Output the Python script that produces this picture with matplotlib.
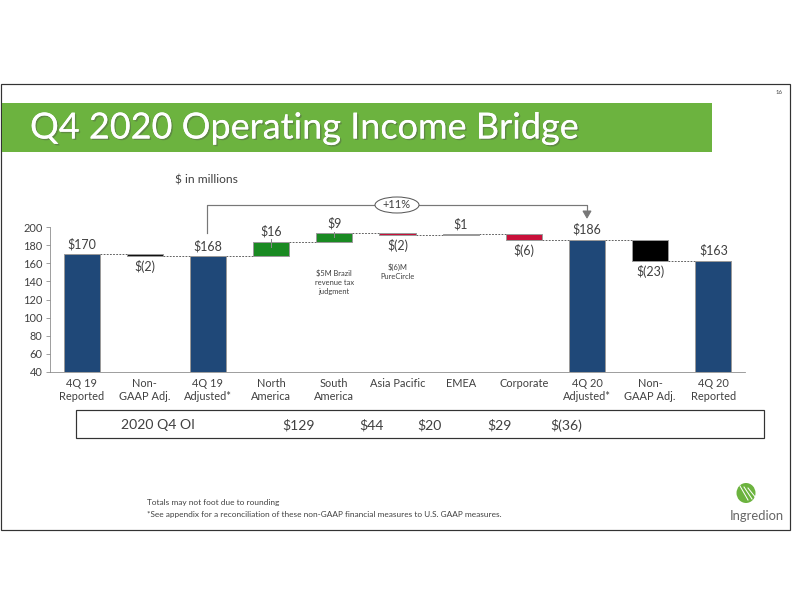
"""
Q4 2020 operating income bridge (waterfall) recreated as a slide
"""
import matplotlib
matplotlib.use('Agg')
import matplotlib.pyplot as plt
import matplotlib.patheffects as pe
from matplotlib.patches import Rectangle, Ellipse, Wedge
import numpy as np

plt.rcParams['font.family'] = ['Lato', 'DejaVu Sans']

# data
categories = ['4Q 19\nReported', 'Non-\nGAAP Adj.', '4Q 19\nAdjusted*', 'North\nAmerica',
              'South\nAmerica', 'Asia Pacific', 'EMEA', 'Corporate', '4Q 20\nAdjusted*',
              'Non-\nGAAP Adj.', '4Q 20\nReported']
values = [170, -2, 168, 16, 9, -2, 1, -6, 186, -23, 163]
is_total = [True, False, True, False, False, False, False, False, True, False, True]
value_labels = ['$170', '$(2)', '$168', '$16', '$9', '$(2)', '$1', '$(6)', '$186', '$(23)', '$163']
bar_colors = ['#1f4878', '#111111', '#1f4878', '#1a8a22', '#1a8a22', '#c8103a',
              '#5a5a5a', '#c8103a', '#1f4878', '#000000', '#1f4878']
notes = {4: '$5M Brazil\nrevenue tax\njudgment', 5: '$(6)M\nPureCircle'}
yticks = [40, 60, 80, 100, 120, 140, 160, 180, 200]

oi_label = '2020 Q4 OI'
oi_values = ['$129', '$44', '$20', '$29', '$(36)']

W, H = 792, 612
fig = plt.figure(figsize=(W / 72, H / 72), dpi=72)


def fx(px):
    return px / W


def fy(py):
    return 1 - py / H


text_col = '#404040'

# slide frame
fig.add_artist(Rectangle((fx(1), fy(530)), fx(789), fy(84) - fy(530), transform=fig.transFigure,
                         fill=False, edgecolor='#333333', lw=1.2))
# title banner
fig.add_artist(Rectangle((fx(2), fy(152)), fx(710), fy(103) - fy(152), transform=fig.transFigure,
                         facecolor='#6cb33f', edgecolor='none'))
fig.text(fx(30), fy(128), 'Q4 2020 Operating Income Bridge', color='white', fontsize=36,
         va='center', ha='left',
         path_effects=[pe.withSimplePatchShadow(offset=(1.5, -1.5), alpha=0.4), pe.Normal()])
fig.text(fx(779), fy(93), '16', fontsize=6, color=text_col, ha='center', va='center')
fig.text(fx(175), fy(180), '$ in millions', fontsize=12, color=text_col, ha='left', va='center')

# chart
ax = fig.add_axes([fx(50), fy(372), fx(695), fy(227) - fy(372)])
x = np.arange(len(categories))
bottoms, tops = [], []
level = 0
for v, tot in zip(values, is_total):
    if tot:
        b, t = 0, v
        level = v
    else:
        b, t = min(level, level + v), max(level, level + v)
        level = level + v
    bottoms.append(b)
    tops.append(t)
bottoms = np.array(bottoms)
tops = np.array(tops)
width = 0.57
ax.bar(x, tops - bottoms, bottom=bottoms, width=width, color=bar_colors,
       edgecolor='#9a9a9a', linewidth=1, zorder=3)

# connectors
ends = []
level = 0
for v, tot in zip(values, is_total):
    level = v if tot else level + v
    ends.append(level)
for i in range(len(x) - 1):
    ax.plot([x[i] + width / 2, x[i + 1] - width / 2], [ends[i], ends[i]],
            ls=(0, (2, 1.5)), color='#555555', lw=0.9, zorder=2)

# value labels
for i, lab in enumerate(value_labels):
    if values[i] < 0 and not is_total[i]:
        ax.annotate(lab, (x[i], bottoms[i]), xytext=(0, -4), textcoords='offset points',
                    ha='center', va='top', fontsize=12.5, color=text_col)
    else:
        ax.annotate(lab, (x[i], tops[i]), xytext=(0, 4), textcoords='offset points',
                    ha='center', va='bottom', fontsize=12.5, color=text_col)

# small marks on the green bars
ax.plot([x[3], x[3]], [tops[3] + 2.5, tops[3] - 6], color='#8a8a8a', lw=1, zorder=4)
ax.plot([x[4], x[4]], [tops[4] + 1.5, tops[4] - 4], color='#8a8a8a', lw=1, zorder=4)

for i, txt in notes.items():
    ax.annotate(txt, (x[i], bottoms[i]), xytext=(0, -28), textcoords='offset points',
                ha='center', va='top', fontsize=7.5, color=text_col, linespacing=1.35)

ax.set_xlim(-0.5, len(x) - 0.5)
ax.set_ylim(40, 200)
ax.set_yticks(yticks)
ax.set_xticks(x)
ax.set_xticklabels(categories, fontsize=11, color=text_col, linespacing=1.25)
ax.tick_params(axis='y', labelsize=11, labelcolor=text_col, color='#888888', length=4)
ax.tick_params(axis='x', length=0, pad=6)
for s in ['top', 'right']:
    ax.spines[s].set_visible(False)
for s in ['left', 'bottom']:
    ax.spines[s].set_color('#888888')
ax.patch.set_alpha(0)

# +11% bracket
y_br = 205
fig.add_artist(plt.Line2D([fx(207), fx(207), fx(587), fx(587)],
                          [fy(233), fy(y_br), fy(y_br), fy(212)], color='#777777', lw=1.2))
fig.add_artist(plt.Polygon([[fx(583), fy(211)], [fx(591), fy(211)], [fx(587), fy(218)]],
                           closed=True, color='#777777', transform=fig.transFigure))
fig.add_artist(Ellipse((fx(397), fy(y_br)), fx(44), fy(0) - fy(16), transform=fig.transFigure,
                       facecolor='white', edgecolor='#555555', lw=1, zorder=5))
fig.text(fx(397), fy(y_br), '+11%', fontsize=11, color=text_col, ha='center', va='center',
         zorder=6)

# 2020 Q4 OI row
fig.add_artist(Rectangle((fx(76), fy(438)), fx(688), fy(410) - fy(438), transform=fig.transFigure,
                         fill=False, edgecolor='#333333', lw=1.2))
fig.text(fx(121), fy(425), oi_label, fontsize=14, color=text_col, ha='left', va='center')
oi_x = [299, 372, 430, 499, 566]
for xp, t in zip(oi_x, oi_values):
    fig.text(fx(xp), fy(425), t, fontsize=14, color=text_col, ha='center', va='center')

# footnotes
fig.text(fx(147), fy(502), 'Totals may not foot due to rounding', fontsize=8.2, color=text_col,
         va='center')
fig.text(fx(147), fy(514), '*See appendix for a reconciliation of these non-GAAP financial '
         'measures to U.S. GAAP measures.', fontsize=8.2, color=text_col, va='center')

# logo: green leaf disc with white stripes
fig.add_artist(Ellipse((fx(746), fy(493)), fx(19), fy(0) - fy(20), transform=fig.transFigure,
                       facecolor='#6cb33f', edgecolor='none'))
for k in range(3):
    fig.add_artist(plt.Line2D([fx(740 + 4 * k), fx(748 + 4 * k)], [fy(486 + k), fy(500 - k)],
                              color='white', lw=1))
fig.text(fx(757), fy(516), 'Ingredion', fontsize=13, color='#666666', ha='center', va='center')

plt.savefig('out.png', dpi=72)
plt.close()
